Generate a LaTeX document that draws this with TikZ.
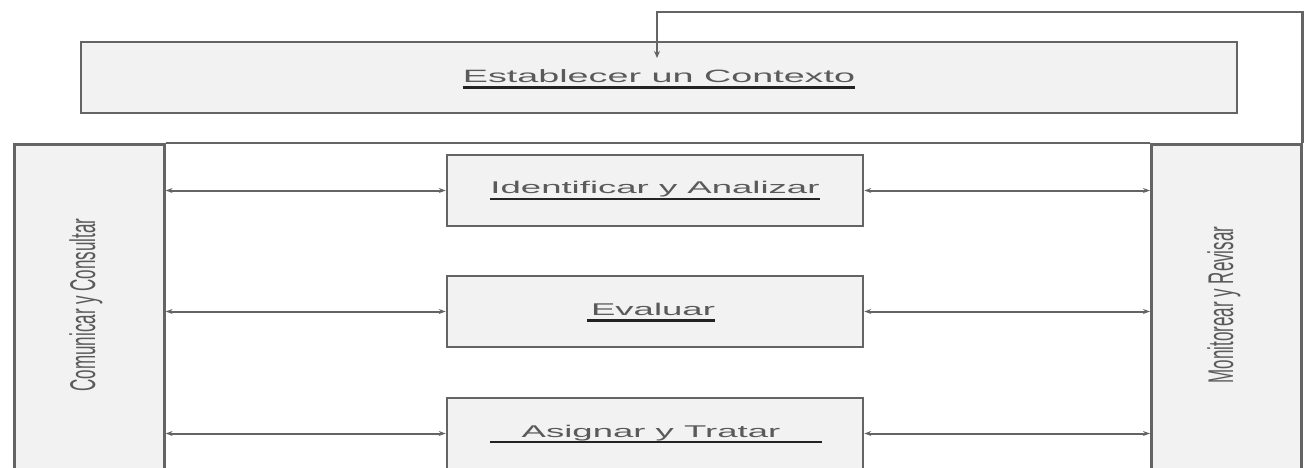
\documentclass[tikz,border=0pt]{standalone}
\usepackage{fontspec}
\setmainfont{Liberation Sans}
\usetikzlibrary{arrows.meta,calc}
\definecolor{linegray}{RGB}{100,100,100}
\definecolor{boxfill}{RGB}{242,242,242}
\definecolor{txtgray}{RGB}{90,90,90}
\definecolor{ulcol}{RGB}{35,35,35}
\begin{document}
\begin{tikzpicture}[x=1pt,y=-1pt,
  boxline/.style={draw=linegray,line width=2.6pt},
  colbox/.style={boxline,fill=boxfill,minimum width=150pt,minimum height=360pt,inner sep=0pt,anchor=north west},
  stagebox/.style={boxline,fill=boxfill,minimum width=416pt,minimum height=71pt,inner sep=0pt},
  lbl/.style={text=txtgray,inner sep=0pt,anchor=base,font=\fontsize{17}{20}\selectfont},
  vlbl/.style={text=txtgray,inner sep=0pt,rotate=90,font=\fontsize{17}{20}\selectfont},
  uline/.style={draw=ulcol,line width=2.2pt},
  link/.style={draw=linegray,line width=2pt,{Stealth[length=7pt,width=5pt]}-{Stealth[length=7pt,width=5pt]}},
  fbline/.style={draw=linegray,line width=2.4pt,-{Stealth[length=7pt,width=6pt]}},
]
\useasboundingbox (0,0) rectangle (1304,467);
\clip (0,0) rectangle (1304,467);
\fill[white] (0,0) rectangle (1304,467);

% top box
\node[stagebox,minimum width=1156pt] (ctx) at (659,77.5) {};
\node[lbl] (tctx) at (659,82) {\scalebox{2.22}[1.05]{Establecer un Contexto}};
\draw[uline] ([yshift=-5.5pt]tctx.base west) -- ([yshift=-5.5pt]tctx.base east);

% side columns
\node[colbox] (ccol) at (13,143) {};
\node[colbox] (rcol) at (1150,143) {};
\draw[boxline] (ccol.north east) -- (rcol.north west);
\node[vlbl] (tccol) at (86,305) {\scalebox{1}[2.1]{Comunicar y Consultar}};
\node[vlbl] (trcol) at (1224,305) {\scalebox{1}[2.1]{Monitorear y Revisar}};

% stages
\node[stagebox] (s1) at (655,190.5) {};
\node[stagebox] (s2) at (655,311.5) {};
\node[stagebox] (s3) at (655,433.5) {};

\node[lbl] (t1) at (655,193) {\scalebox{2.15}[1]{Identificar y Analizar}};
\draw[uline] ([yshift=-6pt]t1.base west) -- ([yshift=-6pt]t1.base east);
\node[lbl] (t2) at (653,315) {\scalebox{2.15}[1]{Evaluar}};
\draw[uline] ([xshift=-4pt,yshift=-5.5pt]t2.base west) -- ([yshift=-5.5pt]t2.base east);
\node[lbl] (t3) at (651,437) {\scalebox{2.15}[1]{Asignar y Tratar}};
\draw[uline] ([xshift=-31pt,yshift=-5pt]t3.base west) -- ([xshift=41pt,yshift=-5pt]t3.base east);

% connectors
\draw[link] (ccol.east |- s1.west) -- (s1.west);
\draw[link] (ccol.east |- s2.west) -- (s2.west);
\draw[link] (ccol.east |- s3.west) -- (s3.west);
\draw[link] (s1.east) -- (rcol.west |- s1.east);
\draw[link] (s2.east) -- (rcol.west |- s2.east);
\draw[link] (s3.east) -- (rcol.west |- s3.east);

% feedback
\coordinate (fbturn) at (657,12);
\coordinate (fbtip) at (657,58);
\draw[fbline] (rcol.north east) |- (fbturn) -- (fbtip);
\end{tikzpicture}
\end{document}
